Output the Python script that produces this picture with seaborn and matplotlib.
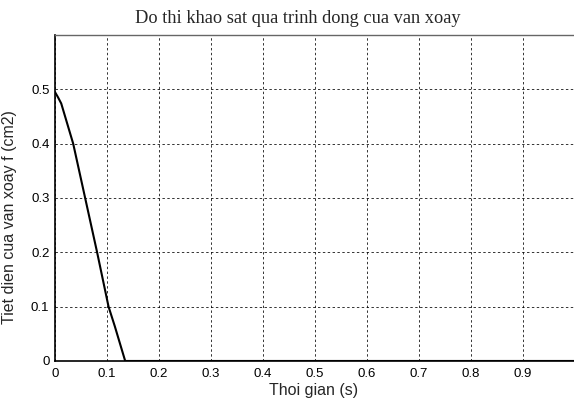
import numpy as np
import pandas as pd
import seaborn as sns
import matplotlib.pyplot as plt

# closing curve of the valve
t = [0, 0.006, 0.012, 0.035, 0.058, 0.081, 0.103, 0.115, 0.135, 0.5, 1.0]
f = [0.495, 0.485, 0.474, 0.40, 0.30, 0.20, 0.10, 0.064, 0.0, 0.0, 0.0]
xticks = [0, 0.1, 0.2, 0.3, 0.4, 0.5, 0.6, 0.7, 0.8, 0.9, 1.0]
xtick_labels = ["0", "0.1", "0.2", "0.3", "0.4", "0.5", "0.6", "0.7", "0.8", "0.9", ""]
yticks = [0, 0.1, 0.2, 0.3, 0.4, 0.5]
ytick_labels = ["0", "0.1", "0.2", "0.3", "0.4", "0.5"]

df = pd.DataFrame({"t": t, "f": f})

sns.set_style("white")
plt.rcParams["font.family"] = ["Liberation Sans", "DejaVu Sans"]

fig = plt.figure(figsize=(5.74, 4.01), dpi=100)
ax = fig.add_axes([0.0958, 0.0998, 0.9059, 0.8129])

sns.lineplot(data=df, x="t", y="f", color="black", linewidth=1.5, ax=ax)

ax.set_xlim(0, 1)
ax.set_ylim(0, 0.6)
ax.set_xticks(xticks)
ax.set_xticklabels(xtick_labels, fontsize=9.5)
ax.set_yticks(yticks)
ax.set_yticklabels(ytick_labels, fontsize=9.5)
ax.tick_params(direction="in", length=3, width=0.8, colors="black")
ax.tick_params(axis="x", pad=5)
ax.tick_params(axis="y", pad=4)
ax.grid(True, color="black", linestyle=(0, (2.5, 2.5)), linewidth=0.7, alpha=0.8)

for side in ["left", "bottom"]:
    ax.spines[side].set_color("black")
    ax.spines[side].set_linewidth(1.2)
for side in ["top", "right"]:
    ax.spines[side].set_color("#666666")
    ax.spines[side].set_linewidth(1.0)

ax.set_xlabel("Thoi gian (s)", fontsize=11.5)
ax.xaxis.set_label_coords(0.497, -0.067)
ax.set_ylabel("Tiet dien cua van xoay f (cm2)", fontsize=11.5)
ax.yaxis.set_label_coords(-0.073, 0.443)
ax.set_title("Do thi khao sat qua trinh dong cua van xoay",
             fontsize=13.2, family="Liberation Serif", pad=9, x=0.467)

fig.savefig("out.png", dpi=100)
